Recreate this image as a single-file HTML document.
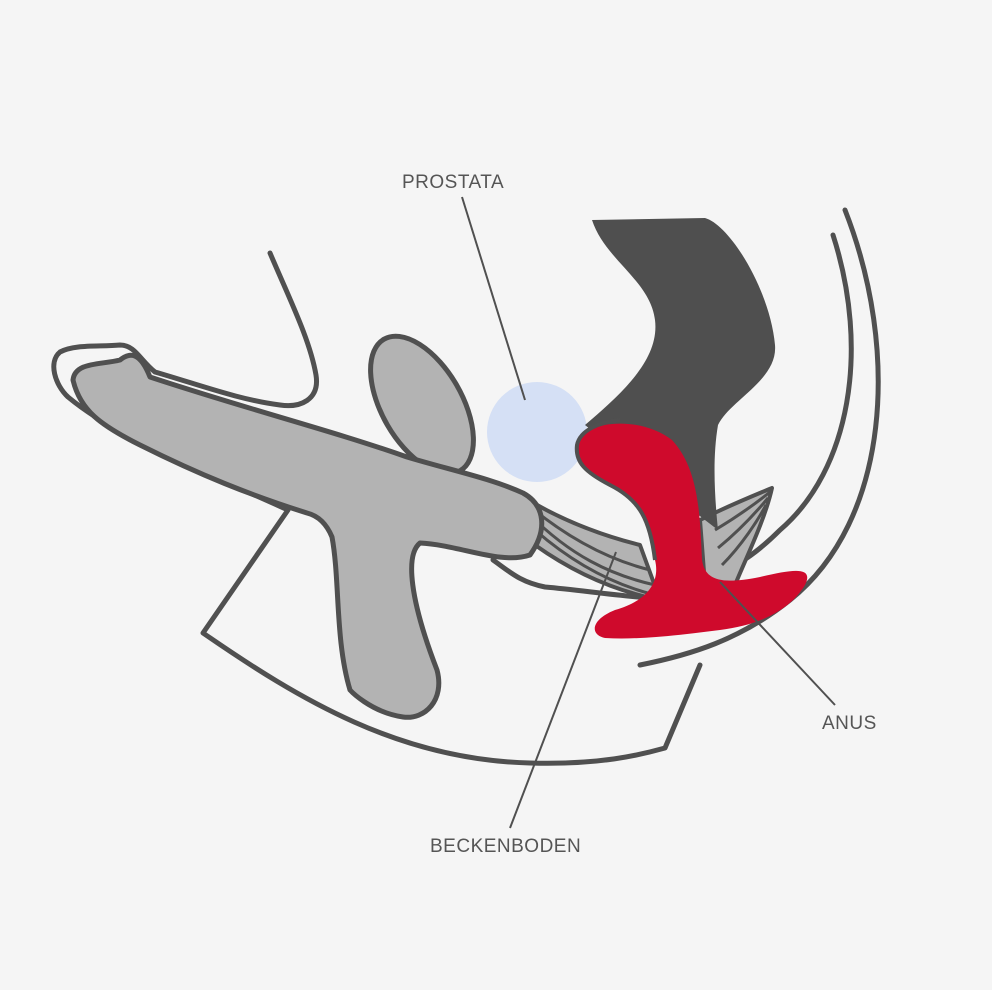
<!DOCTYPE html>
<html><head><style>
html,body{margin:0;padding:0;background:#f5f5f5;}
svg{display:block}
text{font-family:"Liberation Sans","DejaVu Sans",sans-serif;font-size:19px;fill:#555;letter-spacing:0.5px}
</style></head><body>
<svg width="992" height="990" viewBox="0 0 992 990" xmlns="http://www.w3.org/2000/svg">
<rect width="992" height="990" fill="#f5f5f5"/>
<g fill="none" stroke="#505050" stroke-width="5" stroke-linecap="round" stroke-linejoin="round">
<path d="M270 253 C290 300 310 340 316 375 C320 400 300 408 280 405 C240 400 200 385 155 372 C140 360 135 345 120 345 C100 347 75 344 60 352 C48 362 55 385 68 397 C120 440 200 470 288 510 L203 633 C300 700 400 760 530 763 C600 765 640 755 665 748 L700 665"/>
<path d="M833 235 C870 350 850 470 780 530 C760 550 740 565 720 572"/>
<path d="M845 210 C900 350 890 520 790 600 C740 640 690 655 640 665"/>
<path d="M493 560 C510 572 520 582 545 587 C580 590 610 595 650 598"/>
</g>
<circle cx="537" cy="432" r="50" fill="#d5e0f5"/>
<g stroke="#505050" stroke-width="4" fill="#b3b3b3" stroke-linejoin="round">
<path d="M520 495 C560 520 600 535 640 545 L660 600 C610 590 570 570 535 545 Z"/>
<path d="M700 520 C730 505 755 495 772 488 C765 520 745 560 735 585 L705 585 Z"/>
</g>
<g stroke="#505050" stroke-width="3" fill="none">
<path d="M528 505 C570 540 610 560 650 570"/><path d="M530 515 C570 555 610 575 655 585"/><path d="M535 530 C575 565 615 585 655 595"/>
<path d="M715 530 C740 515 760 500 770 492"/><path d="M718 548 C740 530 758 510 768 498"/><path d="M722 565 C742 545 758 520 766 505"/>
</g>
<path d="M592 220 L705 218 C730 225 770 290 775 345 C778 380 730 400 718 425 C712 460 715 500 718 530 L640 470 L585 425 C620 395 660 360 655 320 C650 280 605 260 592 220 Z" fill="#4f4f4f"/>
<g fill="#b3b3b3" stroke="#505050" stroke-width="5" stroke-linejoin="round">
<ellipse cx="422" cy="405" rx="40" ry="76" transform="rotate(-30 422 405)"/>
<path d="M120 360 C130 352 140 352 150 377 C250 410 330 430 407 457 C450 470 490 478 523 493 C545 505 548 530 530 555 C500 565 460 545 420 543 C405 555 410 600 437 670 C445 700 425 720 403 717 C370 712 350 690 350 690 C335 640 340 580 332 537 C325 520 315 515 307 513 C250 495 200 475 140 445 C100 425 80 410 73 380 C75 362 100 365 120 360 Z"/>
</g>
<path d="M577 445 C582 420 640 415 672 440 C700 470 700 520 702 560 C705 580 720 585 760 577 C790 570 815 565 805 585 C790 610 760 625 720 630 C680 635 640 640 605 638 C590 635 590 620 615 610 C650 600 660 580 655 560 C650 520 640 500 610 485 C585 472 575 462 577 445 Z" fill="#cf0a2c"/>
<path d="M655 560 C650 520 640 500 610 485 C585 472 575 462 577 445 C580 430 600 422 620 420" fill="none" stroke="#505050" stroke-width="4"/>
<g stroke="#505050" stroke-width="2" fill="none">
<line x1="462" y1="197" x2="525" y2="400"/>
<line x1="510" y1="828" x2="616" y2="552"/>
<line x1="720" y1="582" x2="835" y2="705"/>
</g>
<text x="402" y="188">PROSTATA</text>
<text x="430" y="852">BECKENBODEN</text>
<text x="822" y="729">ANUS</text>
</svg>
</body></html>
